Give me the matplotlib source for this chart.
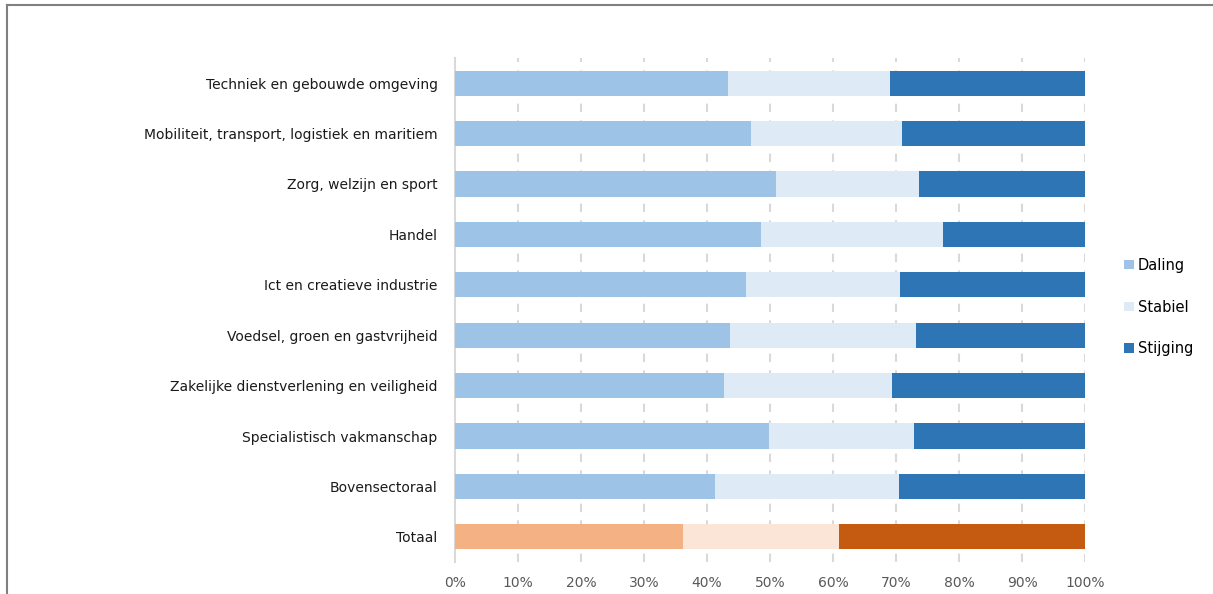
import matplotlib.pyplot as plt
from matplotlib.patches import Patch
from matplotlib.lines import Line2D

# ======================
# DATA (percentages)
# ======================
categories = [
    "Techniek en gebouwde omgeving",
    "Mobiliteit, transport, logistiek en maritiem",
    "Zorg, welzijn en sport",
    "Handel",
    "Ict en creatieve industrie",
    "Voedsel, groen en gastvrijheid",
    "Zakelijke dienstverlening en veiligheid",
    "Specialistisch vakmanschap",
    "Bovensectoraal",
    "Totaal",
]
daling = [43.3, 47.0, 50.9, 48.6, 46.2, 43.6, 42.7, 49.9, 41.3, 36.2]
stabiel = [25.8, 23.9, 22.7, 28.8, 24.5, 29.5, 26.6, 23.0, 29.1, 24.8]
stijging = [30.9, 29.1, 26.4, 22.6, 29.3, 26.9, 30.7, 27.1, 29.6, 39.0]
series_labels = ["Daling", "Stabiel", "Stijging"]
xtick_vals = list(range(0, 101, 10))

blue_cols = ["#9DC3E6", "#DEEBF7", "#2E75B6"]
orange_cols = ["#F4B183", "#FBE5D6", "#C55A11"]

# ======================
# PLOT
# ======================
plt.rcParams["font.family"] = ["DejaVu Sans"]
fig = plt.figure(figsize=(12.13, 5.94), dpi=100)
ax = fig.add_axes([455 / 1213, 1 - 562 / 594, 630 / 1213, 504 / 594])

y = list(range(len(categories)))
left = [0] * len(categories)
for vals, bcol, ocol in zip([daling, stabiel, stijging], blue_cols, orange_cols):
    cols = [bcol] * (len(categories) - 1) + [ocol]
    ax.barh(y, vals, left=left, height=0.5, color=cols, zorder=3)
    left = [l + v for l, v in zip(left, vals)]

ax.set_ylim(len(categories) - 0.5, -0.5)
ax.set_xlim(0, 100)
ax.set_yticks(y)
ax.set_yticklabels(categories, fontsize=10, color="#1a1a1a")
ax.set_xticks(xtick_vals)
ax.set_xticklabels([f"{v}%" for v in xtick_vals], fontsize=10, color="#595959")
ax.tick_params(axis="both", length=0)
ax.tick_params(axis="y", pad=12.5)
ax.tick_params(axis="x", pad=10)

for v in xtick_vals[1:]:
    ax.axvline(v, color="#D9D9D9", linestyle=(0, (4, 4)), linewidth=1.5, zorder=1)

for side in ["top", "right", "bottom"]:
    ax.spines[side].set_visible(False)
ax.spines["left"].set_color("#D9D9D9")
ax.spines["left"].set_linewidth(1.5)

handles = [Patch(facecolor=c, edgecolor="none") for c in blue_cols]
fig.legend(handles, series_labels, loc="center left",
           bbox_to_anchor=(1111 / 1213, 1 - 307 / 594), frameon=False,
           fontsize=10.5, handlelength=0.65, handleheight=0.65,
           handletextpad=0.3, labelspacing=1.85)

# outer frame of the chart area
fig.add_artist(Line2D([7 / 1213, 7 / 1213], [0, 1 - 5 / 594],
                      transform=fig.transFigure, color="#808080", linewidth=1.5))
fig.add_artist(Line2D([7 / 1213, 1], [1 - 5 / 594, 1 - 5 / 594],
                      transform=fig.transFigure, color="#808080", linewidth=1.5))

fig.savefig("out.png", dpi=100)
